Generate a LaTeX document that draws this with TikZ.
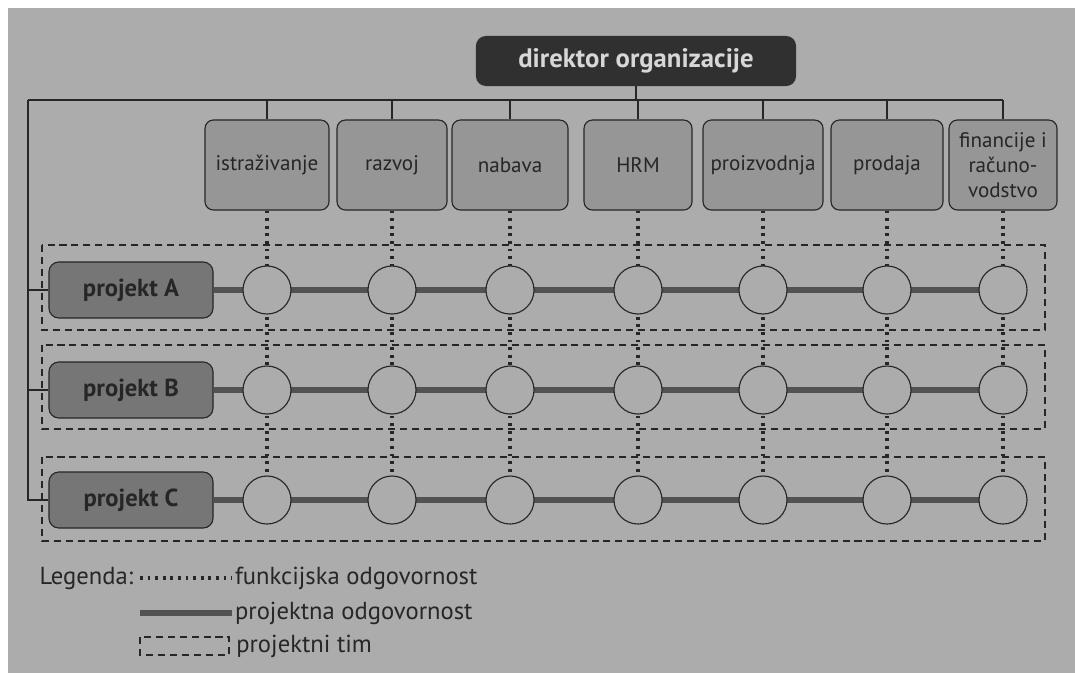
\documentclass[tikz,border=0pt]{standalone}
\usepackage{fontspec}
\setmainfont{PT Sans}
\usepackage{xcolor}
\usetikzlibrary{positioning,calc}

\definecolor{pagegray}{RGB}{172,172,172}
\definecolor{deptgray}{RGB}{150,150,150}
\definecolor{projgray}{RGB}{118,118,118}
\definecolor{dirgray}{RGB}{48,48,48}
\definecolor{inkgray}{RGB}{38,38,38}
\definecolor{rulegray}{RGB}{82,82,82}

\begin{document}
\begin{tikzpicture}[
    x=0.025cm, y=-0.025cm,
    director/.style={fill=dirgray, rounded corners=7pt, minimum width=8cm, minimum height=1.25cm, text={rgb,255:red,215;green,215;blue,215}, font=\fontsize{19}{22}\selectfont\bfseries},
    dept/.style={draw=inkgray, line width=0.8pt, fill=deptgray, rounded corners=6pt, minimum height=2.25cm, align=center, text=inkgray, font=\fontsize{15}{18}\selectfont},
    proj/.style={draw=inkgray, line width=0.8pt, fill=projgray, rounded corners=7pt, minimum width=4.1cm, minimum height=1.4cm, text=inkgray, font=\fontsize{17.5}{20}\selectfont\bfseries},
    member/.style={circle, draw=inkgray, line width=0.8pt, fill=pagegray, minimum size=1.2cm, inner sep=0pt},
    tree/.style={draw=inkgray, line width=1.2pt},
    functional/.style={draw=inkgray, line width=2.4pt, dash pattern=on 2pt off 3.4pt},
    projline/.style={draw=rulegray, line width=3.6pt},
    team/.style={draw=inkgray, line width=1.2pt, dash pattern=on 5pt off 3.5pt},
    legtext/.style={anchor=west, inner sep=1pt, text=inkgray, font=\fontsize{17.5}{20}\selectfont}
]
    % page
    \fill[white] (0,0) rectangle (1075,673);
    \fill[pagegray] (8,8) rectangle (1075,673);
    \useasboundingbox (0,0) rectangle (1075,673);

    \node[director] (dir) at (636,61) {direktor organizacije};

    % functional departments
    \node[dept, minimum width=3.1cm]  (ist) at (267,165) {istraživanje};
    \node[dept, minimum width=2.75cm] (raz) at (392,165) {razvoj};
    \node[dept, minimum width=2.9cm]  (nab) at (510,165) {nabava};
    \node[dept, minimum width=2.7cm]  (hrm) at (638,165) {HRM};
    \node[dept, minimum width=3.0cm]  (pro) at (763,165) {proizvodnja};
    \node[dept, minimum width=2.8cm]  (prd) at (887,165) {prodaja};
    \node[dept, minimum width=2.7cm]  (fin) at (1003,165) {financije i\\računo-\\vodstvo};

    % projects
    \node[proj] (pA) at (131,290) {projekt A};
    \node[proj] (pB) at (131,390) {projekt B};
    \node[proj] (pC) at (131,500) {projekt C};

    % hierarchy
    \coordinate (bus) at (28,100);
    \draw[tree] (dir.south) -- (dir.south |- bus);
    \draw[tree] (bus) -- (bus -| fin.north);
    \foreach \d in {ist,raz,nab,hrm,pro,prd,fin}
        \draw[tree] (\d.north |- bus) -- (\d.north);
    \draw[tree] (bus) |- (pC.west);
    \draw[tree] (bus |- pA.west) -- (pA.west);
    \draw[tree] (bus |- pB.west) -- (pB.west);

    % project teams
    \draw[team] (42,245) rectangle (1045,330);
    \draw[team] (42,345) rectangle (1045,429);
    \draw[team] (42,457) rectangle (1045,541);

    % responsibilities
    \foreach \d in {ist,raz,nab,hrm,pro,prd,fin}
        \draw[functional] (\d.south) -- (\d.south |- pC);
    \foreach \r in {A,B,C}
        \draw[projline] (p\r.east) -- (p\r -| fin.south);

    \foreach \d [count=\i] in {ist,raz,nab,hrm,pro,prd,fin}
        \foreach \r in {A,B,C}
            \node[member] (\r\i) at (\d.south |- p\r) {};

    % legend
    \node[legtext] (leg) at (38,578) {Legenda:};
    \coordinate (fa) at (140,578);
    \coordinate (fb) at (232,578);
    \draw[functional] (fa) -- (fb);
    \node[legtext, right=1pt of fb] (lfun) {funkcijska odgovornost};
    \coordinate (pa) at (140,613);
    \coordinate (pb) at (232,613);
    \draw[projline] (pa) -- (pb);
    \node[legtext, right=1pt of pb] (lproj) {projektna odgovornost};
    \coordinate (ta) at (140,637);
    \coordinate (tb) at (229,655);
    \coordinate (tm) at (229,646);
    \draw[team] (ta) rectangle (tb);
    \node[legtext, right=4pt of tm] (ltim) {projektni tim};
\end{tikzpicture}
\end{document}
